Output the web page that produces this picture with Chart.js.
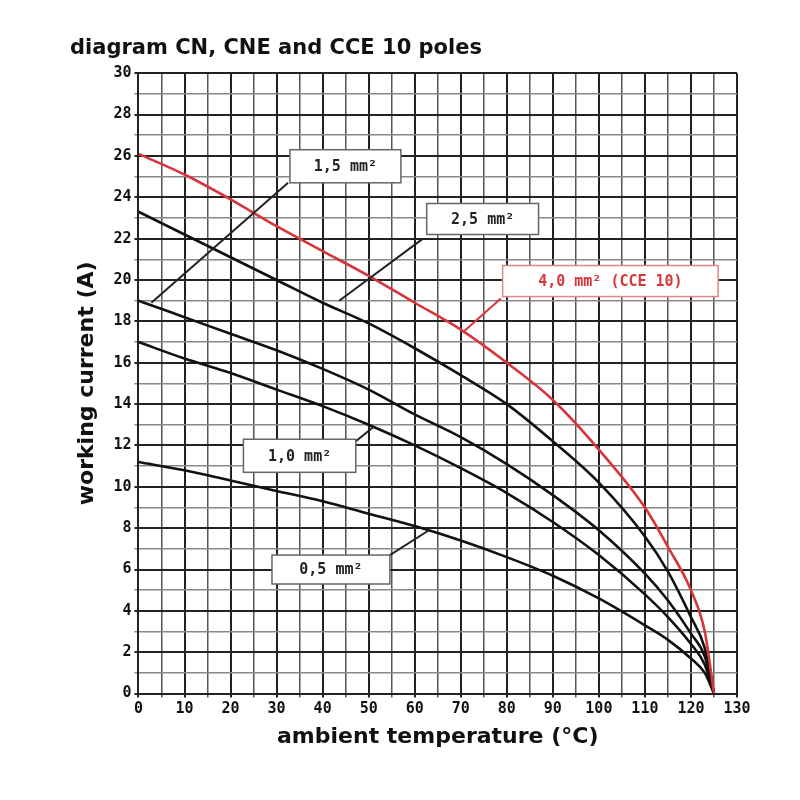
<!DOCTYPE html>
<html><head><meta charset="utf-8">
<script src="https://cdn.jsdelivr.net/npm/chart.js@4/dist/chart.umd.min.js"></script>
<style>html,body{margin:0;padding:0;background:#fff}#wrap{width:800px;height:800px}</style>
</head><body><div id="wrap"><canvas id="c" width="800" height="800"></canvas></div>
<script>
const temps = [0,10,20,30,40,50,60,70,80,90,100,110,115,120,123,125];
const s40 = [26.1,25.1,23.9,22.6,21.4,20.2,18.9,17.6,16.0,14.2,11.8,9.0,7.1,5.0,3.0,0];
const s25 = [23.3,22.2,21.1,20.0,18.9,17.9,16.7,15.4,14.0,12.2,10.2,7.6,5.9,3.7,2.2,0];
const s15 = [19.0,18.2,17.4,16.6,15.7,14.7,13.5,12.4,11.1,9.6,7.9,5.8,4.5,2.9,1.8,0];
const s10 = [17.0,16.2,15.5,14.7,13.9,13.0,12.0,10.9,9.7,8.3,6.7,4.8,3.7,2.4,1.4,0];
const s05 = [11.2,10.8,10.3,9.8,9.3,8.7,8.1,7.4,6.6,5.7,4.6,3.3,2.6,1.7,1.0,0];
const seriesNames = ["4,0 mm² (CCE 10)","2,5 mm²","1,5 mm²","1,0 mm²","0,5 mm²"];
const xTicks = [0,10,20,30,40,50,60,70,80,90,100,110,120,130];
const yTicks = [0,2,4,6,8,10,12,14,16,18,20,22,24,26,28,30];

const RED = '#d8353b';
const mk = (arr) => temps.map((t,i)=>({x:t,y:arr[i]}));
const seriesVals = [s40,s25,s15,s10,s05];
const datasets = seriesVals.map((arr,i)=>({
  label: seriesNames[i], data: mk(arr),
  borderColor: i===0?RED:'#111', borderWidth: 2.6,
  pointRadius: 0, cubicInterpolationMode:'monotone', fill:false
}));

const labels = [
  {t:seriesNames[2], box:[32.9,57.0,26.3,24.7], l:[[32.5,24.7],[2.8,18.9]], c:'#222'},
  {t:seriesNames[1], box:[62.6,86.9,23.7,22.2], l:[[61.8,22.0],[43.6,19.0]], c:'#222'},
  {t:seriesNames[0], box:[79.1,125.9,20.7,19.2], l:[[78.7,19.1],[70.6,17.5]], c:RED},
  {t:seriesNames[3], box:[22.8,47.2,12.3,10.7], l:[[47.2,12.2],[51.1,12.9]], c:'#222'},
  {t:seriesNames[4], box:[29.0,54.6,6.7,5.3], l:[[54.6,6.7],[63.1,7.9]], c:'#222'}
];

const labelPlugin = {
  id:'lbl',
  afterDatasetsDraw(chart){
    const ctx=chart.ctx, xs=chart.scales.x, ys=chart.scales.y;
    ctx.save();
    labels.forEach(L=>{
      ctx.strokeStyle=L.c; ctx.lineWidth=2;
      ctx.beginPath();
      ctx.moveTo(xs.getPixelForValue(L.l[0][0]), ys.getPixelForValue(L.l[0][1]));
      ctx.lineTo(xs.getPixelForValue(L.l[1][0]), ys.getPixelForValue(L.l[1][1]));
      ctx.stroke();
      const x0=xs.getPixelForValue(L.box[0]), x1=xs.getPixelForValue(L.box[1]);
      const y0=ys.getPixelForValue(L.box[2]), y1=ys.getPixelForValue(L.box[3]);
      ctx.fillStyle='#fff'; ctx.fillRect(x0,y0,x1-x0,y1-y0);
      ctx.strokeStyle=L.c===RED?'#d88':'#666'; ctx.lineWidth=1.5;
      ctx.strokeRect(x0,y0,x1-x0,y1-y0);
      ctx.fillStyle=L.c; ctx.font='bold 15px "DejaVu Sans Mono"';
      ctx.textAlign='center'; ctx.textBaseline='middle';
      ctx.fillText(L.t,(x0+x1)/2,(y0+y1)/2+1);
    });
    ctx.restore();
  }
};

new Chart(document.getElementById('c'),{
  type:'line',
  data:{datasets},
  plugins:[labelPlugin],
  options:{
    responsive:false, animation:false,
    layout:{padding:{left:70,right:63,top:36,bottom:46}},
    plugins:{
      legend:{display:false}, tooltip:{enabled:false},
      title:{display:true,text:'diagram CN, CNE and CCE 10 poles',color:'#111',align:'start',
        font:{family:'DejaVu Sans',weight:'bold',size:21},padding:{top:0,bottom:12}}
    },
    scales:{
      x:{type:'linear',min:0,max:130,
        afterBuildTicks(s){ const t=[]; for(let v=0;v<=130;v+=5) t.push({value:v}); s.ticks=t; },
        ticks:{autoSkip:false,maxRotation:0,color:'#111',font:{family:'DejaVu Sans Mono',weight:'bold',size:15},
          callback:(v)=>xTicks.includes(v)?String(v):''},
        grid:{color:(c)=>c.tick&&c.tick.value%10===0?'#222':'#555',lineWidth:(c)=>c.tick&&c.tick.value%10===0?2:1.5,tickLength:4},
        border:{color:'#222',width:2},
        title:{display:true,text:'ambient temperature (°C)',color:'#111',font:{family:'DejaVu Sans',weight:'bold',size:22},padding:{top:2}}
      },
      y:{type:'linear',min:0,max:30,
        afterBuildTicks(s){ const t=[]; for(let v=0;v<=30;v+=1) t.push({value:v}); s.ticks=t; },
        ticks:{autoSkip:false,color:'#111',font:{family:'DejaVu Sans Mono',weight:'bold',size:15},
          callback:(v)=>yTicks.includes(v)?String(v):''},
        grid:{color:(c)=>c.tick&&c.tick.value%2===0?'#222':'#888',lineWidth:(c)=>c.tick&&c.tick.value%2===0?2:1.5,tickLength:4},
        border:{color:'#222',width:2},
        title:{display:true,text:'working current (A)',color:'#111',font:{family:'DejaVu Sans',weight:'bold',size:22},padding:{bottom:10}}
      }
    }
  }
});
</script></body></html>
